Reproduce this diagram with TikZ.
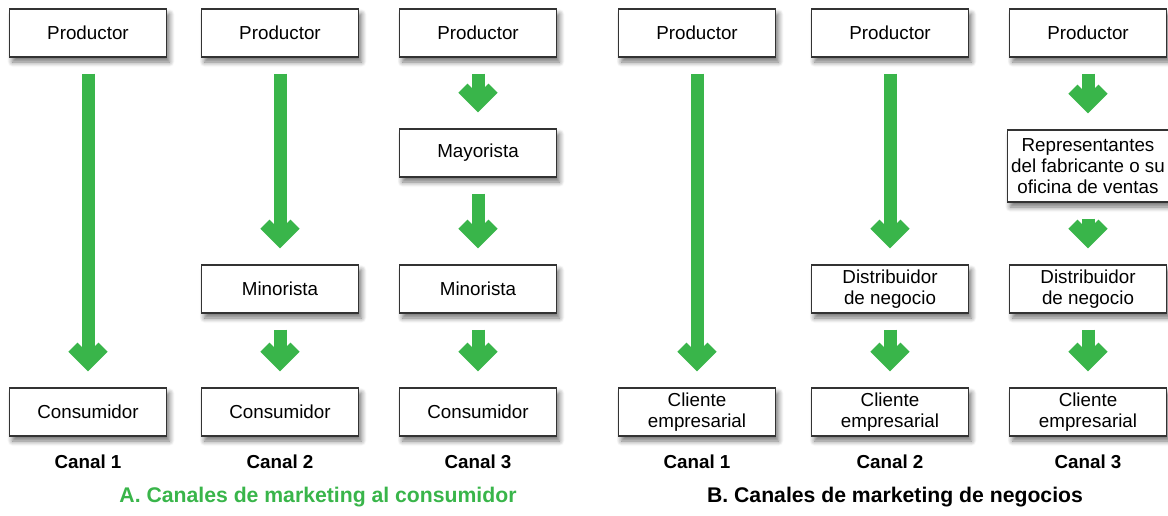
\documentclass[tikz,border=0pt]{standalone}
\usepackage{fontspec}
\setmainfont{Liberation Sans}
\usetikzlibrary{arrows.meta,shadows.blur}
\definecolor{canalgreen}{RGB}{57,181,74}
\tikzset{
    box/.style={rectangle, draw=black!80, line width=0.6pt, fill=white,
        minimum width=78.5pt, minimum height=24pt, align=center, inner sep=2pt,
        font=\fontsize{9.4}{10.5}\selectfont,
        blur shadow={shadow xshift=1.5pt, shadow yshift=-2.5pt, shadow blur radius=2.5pt,
            shadow blur steps=8, shadow opacity=55}},
    flow/.style={draw=canalgreen, line width=6.5pt,
        -{Straight Barb[length=7.5pt,width=15pt]}, shorten <=8pt, shorten >=8pt},
    canal/.style={font=\bfseries\fontsize{9.4}{11}\selectfont},
    title/.style={font=\bfseries\fontsize{10.6}{12}\selectfont}
}
\begin{document}
\begin{tikzpicture}[x=0.5pt, y=-0.5pt]
    \useasboundingbox (0,0) rectangle (1168,515);
    % A. canales al consumidor
    \node (prodA1) at (88,33) [box] {Productor};
    \node (consA1) at (88,412) [box] {Consumidor};
    \node (prodA2) at (280,33) [box] {Productor};
    \node (minA2) at (280,289) [box] {Minorista};
    \node (consA2) at (280,412) [box] {Consumidor};
    \node (prodA3) at (478,33) [box] {Productor};
    \node (mayA3) at (478,153) [box] {Mayorista};
    \node (minA3) at (478,289) [box] {Minorista};
    \node (consA3) at (478,412) [box] {Consumidor};
    % B. canales de negocios
    \node (prodB1) at (697,33) [box] {Productor};
    \node (cliB1) at (697,412) [box] {Cliente\\empresarial};
    \node (prodB2) at (890,33) [box] {Productor};
    \node (disB2) at (890,289) [box] {Distribuidor\\de negocio};
    \node (cliB2) at (890,412) [box] {Cliente\\empresarial};
    \node (prodB3) at (1088,33) [box] {Productor};
    \node (repB3) at (1088,166) [box, minimum height=36pt] {Representantes\\del fabricante o su\\oficina de ventas};
    \node (disB3) at (1088,289) [box] {Distribuidor\\de negocio};
    \node (cliB3) at (1088,412) [box] {Cliente\\empresarial};
    % flechas
    \draw[flow] (prodA1) to (consA1);
    \draw[flow] (prodA2) to (minA2);
    \draw[flow] (minA2) to (consA2);
    \draw[flow] (prodA3) to (mayA3);
    \draw[flow] (mayA3) to (minA3);
    \draw[flow] (minA3) to (consA3);
    \draw[flow] (prodB1) to (cliB1);
    \draw[flow] (prodB2) to (disB2);
    \draw[flow] (disB2) to (cliB2);
    \draw[flow] (prodB3) to (repB3);
    \draw[flow] (repB3) to (disB3);
    \draw[flow] (disB3) to (cliB3);
    % canales
    \node (canA1) at (88,462) [canal] {Canal 1};
    \node (canA2) at (280,462) [canal] {Canal 2};
    \node (canA3) at (478,462) [canal] {Canal 3};
    \node (canB1) at (697,462) [canal] {Canal 1};
    \node (canB2) at (890,462) [canal] {Canal 2};
    \node (canB3) at (1088,462) [canal] {Canal 3};
    % titulos
    \node (titA) at (318,497) [title, text=canalgreen] {A. Canales de marketing al consumidor};
    \node (titB) at (895,497) [title] {B. Canales de marketing de negocios};
\end{tikzpicture}
\end{document}
